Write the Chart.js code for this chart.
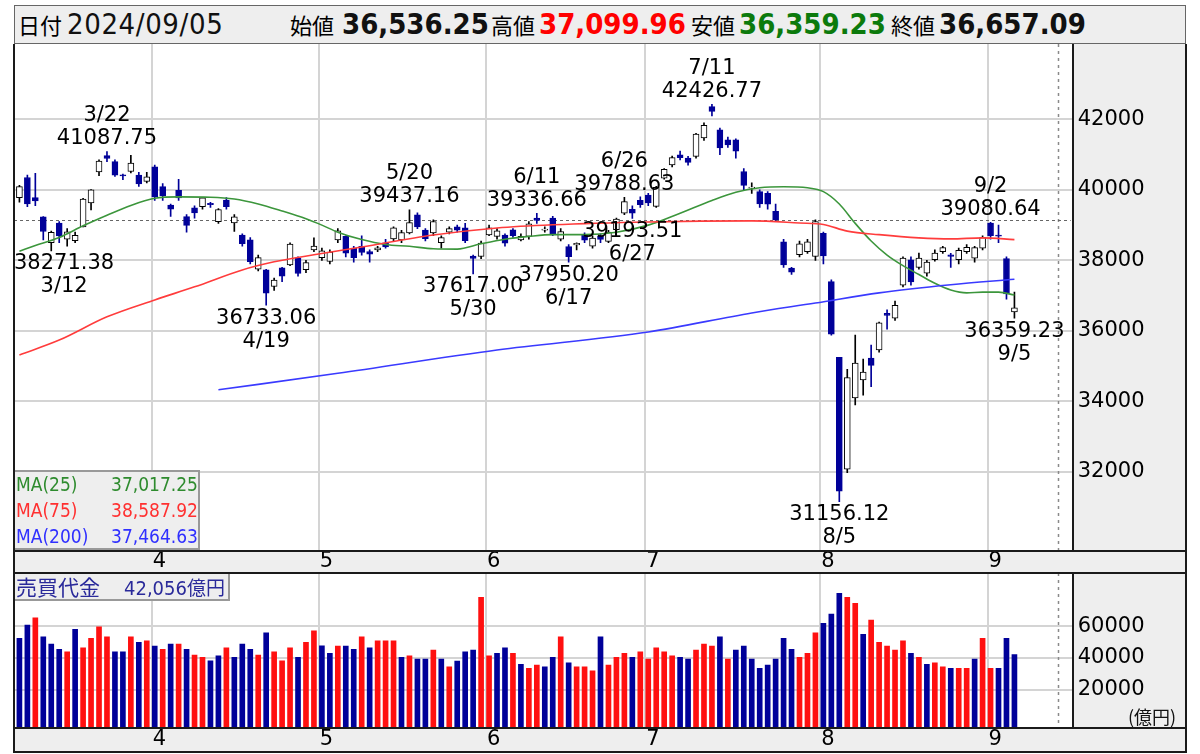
<!DOCTYPE html>
<html><head><meta charset="utf-8">
<script src="https://cdn.jsdelivr.net/npm/chart.js@4.4.1/dist/chart.umd.min.js"></script>
<style>
html,body{margin:0;padding:0;background:#fff;width:1200px;height:754px;overflow:hidden;}
#wrap{position:relative;width:1200px;height:754px;}
.a{position:absolute;box-sizing:border-box;}
.bg{background:#eeeeee;}
.ln{background:#1a1a1a;}
.hk{font-family:"Noto Sans CJK JP",sans-serif;font-size:22px;line-height:39px;top:5px;color:#000;}
.hn{font-family:"DejaVu Sans Condensed","DejaVu Sans",sans-serif;font-size:29px;line-height:39px;top:5px;color:#111;font-weight:bold;}
.lg{font-family:"DejaVu Sans Condensed","Noto Sans CJK JP",sans-serif;font-size:19px;line-height:26px;}
canvas{position:absolute;left:0;}
</style></head>
<body><div id="wrap">
<!-- backgrounds -->
<div class="a bg" style="left:14px;top:5px;width:1172px;height:39px;border:1px solid #666;"></div>
<div class="a bg" style="left:1073px;top:44px;width:113px;height:507px;"></div>
<div class="a bg" style="left:14px;top:551px;width:1172px;height:22px;"></div>
<div class="a bg" style="left:1073px;top:573px;width:113px;height:155px;"></div>
<div class="a bg" style="left:14px;top:728px;width:1172px;height:24px;"></div>

<canvas id="main" width="1200" height="529" style="top:44px;"></canvas>
<canvas id="vol" width="1200" height="179" style="top:573px;"></canvas>

<!-- header text -->
<span class="a hk" style="left:18px;">日付</span>
<span class="a hn" style="left:67px;font-weight:normal;letter-spacing:0.6px;">2024/09/05</span>
<span class="a hk" style="left:290px;">始値</span>
<span class="a hn" style="left:342px;">36,536.25</span>
<span class="a hk" style="left:491px;">高値</span>
<span class="a hn" style="left:539px;color:#ff0000;">37,099.96</span>
<span class="a hk" style="left:691px;">安値</span>
<span class="a hn" style="left:739px;color:#0c7a0c;">36,359.23</span>
<span class="a hk" style="left:891px;">終値</span>
<span class="a hn" style="left:939px;">36,657.09</span>

<!-- MA legend -->
<div class="a bg" style="left:14px;top:470px;width:186px;height:80px;border:2px solid #999;border-left:none;"></div>
<span class="a lg" style="left:16px;top:471px;color:#2e8b2e;">MA(25)</span>
<span class="a lg" style="left:100px;width:98px;text-align:right;top:471px;color:#2e8b2e;">37,017.25</span>
<span class="a lg" style="left:16px;top:497px;color:#ff3030;">MA(75)</span>
<span class="a lg" style="left:100px;width:98px;text-align:right;top:497px;color:#ff3030;">38,587.92</span>
<span class="a lg" style="left:16px;top:523px;color:#3030ff;">MA(200)</span>
<span class="a lg" style="left:100px;width:98px;text-align:right;top:523px;color:#3030ff;">37,464.63</span>

<!-- volume label -->
<div class="a bg" style="left:14px;top:574px;width:216px;height:27px;border:2px solid #999;border-left:none;border-top:none;"></div>
<span class="a" style="left:16px;top:573px;line-height:27px;font-family:'Noto Sans CJK JP',sans-serif;font-size:21px;color:#2a2a9a;white-space:nowrap;">売買代金<span style="display:inline-block;width:24px;"></span><span style="font-family:'DejaVu Sans Condensed',sans-serif;font-size:20px;">42,056</span><span style="font-size:19px;">億円</span></span>
<span class="a" style="left:1128px;top:704px;line-height:24px;font-family:'Noto Sans CJK JP',sans-serif;font-size:18px;color:#111;">(億円)</span>

<!-- frame lines -->
<div class="a ln" style="left:13px;top:44px;width:2px;height:708px;"></div>
<div class="a ln" style="left:1185px;top:44px;width:2px;height:708px;"></div>
<div class="a ln" style="left:1072px;top:44px;width:2px;height:507px;"></div>
<div class="a ln" style="left:1072px;top:573px;width:2px;height:155px;"></div>
<div class="a ln" style="left:13px;top:550px;width:1174px;height:2px;"></div>
<div class="a ln" style="left:13px;top:572px;width:1174px;height:2px;"></div>
<div class="a ln" style="left:13px;top:727px;width:1174px;height:2px;"></div>
<div class="a ln" style="left:13px;top:751px;width:1174px;height:2px;"></div>
</div>
<script>
// ---------- data ----------
const dates = ['3/6','3/7','3/8','3/11','3/12','3/13','3/14','3/15','3/18','3/19','3/21','3/22','3/25','3/26','3/27','3/28','3/29',
'4/1','4/2','4/3','4/4','4/5','4/8','4/9','4/10','4/11','4/12','4/15','4/16','4/17','4/18','4/19','4/22','4/23','4/24','4/25','4/26','4/30',
'5/1','5/2','5/7','5/8','5/9','5/10','5/13','5/14','5/15','5/16','5/17','5/20','5/21','5/22','5/23','5/24','5/27','5/28','5/29','5/30','5/31',
'6/3','6/4','6/5','6/6','6/7','6/10','6/11','6/12','6/13','6/14','6/17','6/18','6/19','6/20','6/21','6/24','6/25','6/26','6/27','6/28',
'7/1','7/2','7/3','7/4','7/5','7/8','7/9','7/10','7/11','7/12','7/16','7/17','7/18','7/19','7/22','7/23','7/24','7/25','7/26','7/29','7/30','7/31',
'8/1','8/2','8/5','8/6','8/7','8/8','8/9','8/13','8/14','8/15','8/16','8/19','8/20','8/21','8/22','8/23','8/26','8/27','8/28','8/29','8/30',
'9/2','9/3','9/4','9/5'];

const openP = [39780,40350,39780,39235,38500,39060,38600,38560,38950,39630,40510,40970,40800,40400,40520,40420,40240,
40650,40090,39570,39990,39240,39490,39520,39620,39100,39710,39060,38720,38580,37750,37730,37260,37790,37870,38070,37740,38300,
38080,37970,38580,38680,38350,38400,38250,38300,38500,38610,38580,38780,39290,38860,38780,38500,38800,38950,38920,38120,38110,
38720,38680,38720,38870,38580,38680,39200,38860,39200,38600,38390,38440,38720,38400,38680,38540,38870,39340,39450,39700,
39850,39530,40330,40710,40990,40900,40950,41470,42360,41700,41420,41420,40520,40050,39950,39900,39390,38530,37780,38160,38250,38110,
38770,37400,35250,32077,34100,34610,35230,35460,36500,36360,37300,38014,37800,37640,38020,38250,38160,38020,38250,38060,38350,
39055,38720,38050,36536.25];
const highP = [40130,40420,40472,39240,38830,39100,38900,38800,39760,40010,40850,41087.75,40850,40450,40980,40500,40500,
40700,40180,39600,40300,39300,39550,39780,39650,39470,39780,39300,38750,38650,38150,37750,37500,37800,38500,38100,38000,38640,
38350,38300,38900,38700,38400,38700,38300,38400,38600,38950,38850,39437.16,39350,38900,39150,38700,38950,39000,39050,38150,38550,
39000,38900,38750,38900,38750,39100,39336.66,38950,39250,38900,38450,38500,38780,38700,38750,38850,39200,39788.63,39550,39800,
39900,40100,40600,40960,41100,40950,41600,41900,42426.77,41750,41500,41450,40600,40200,40000,39950,39600,38600,37800,38550,38600,39150,
38800,37450,35250,34911,35880,35200,35600,36250,36600,36850,38100,38100,38205,38000,38300,38400,38200,38350,38450,38400,38700,
39080.64,39000,38100,37099.96];
const lowP = [39650,39520,39550,38580,38271.38,38500,38400,38500,38950,39430,40400,40800,40380,40290,40480,40100,40200,
39700,39700,39250,39700,38800,39200,39450,39500,39050,39450,38820,38400,37900,37700,36733.06,37150,37400,37850,37550,37650,38250,
38000,37900,38500,38100,37950,38150,37950,38250,38350,38550,38500,38750,38900,38550,38700,38350,38750,38800,38500,37617.00,38050,
38700,38600,38400,38650,38550,38600,39050,38800,38700,38550,37950.20,38300,38500,38350,38500,38500,38850,39300,39193.51,39500,
39550,39500,40300,40650,40850,40700,40900,41400,42100,41000,41200,40900,40000,39900,39500,39450,39100,37800,37600,38100,38200,38000,
37900,35880,31156.12,31981,33900,34180,34420,35400,36050,36300,37250,37300,37750,37550,37980,38200,37800,37900,38200,37950,38300,
38600,38500,36900,36359.23];
const closeP = [40090.78,39598.71,39688.94,38820.49,38797.51,38695.97,38807.38,38707.64,39740.44,40003.60,40815.66,40888.43,40414.12,40398.03,40762.73,40168.07,40369.44,
39803.09,39838.91,39451.85,39773.13,38992.08,39347.04,39773.14,39581.81,39442.63,39523.55,39232.80,38471.20,37961.80,38079.70,37068.35,37438.61,37552.16,38460.08,37628.48,37934.76,38405.66,
38274.05,38236.07,38835.10,38202.37,38073.98,38229.11,38179.46,38356.06,38385.73,38920.26,38787.38,39069.68,38946.93,38617.10,39103.22,38646.11,38900.02,38855.37,38556.87,38054.13,38487.90,
38923.03,38837.46,38490.17,38703.51,38683.93,39038.16,39134.79,38876.71,38720.47,38814.56,38102.44,38482.11,38570.76,38633.02,38596.47,38804.65,39173.15,39667.07,39341.54,39583.08,
39631.06,40074.69,40580.76,40913.65,40912.37,40780.70,41580.17,41831.99,42224.02,41190.68,41275.08,41097.69,40126.35,40063.79,39599.00,39594.39,39154.85,37869.51,37667.41,38468.63,38525.95,39101.82,
38126.33,35909.70,31458.42,34675.46,35089.62,34831.15,35025.00,36232.51,36442.43,36726.64,38062.67,37388.62,38062.92,37951.80,38211.01,38364.27,38110.22,38288.62,38371.76,38362.53,38647.75,
38700.87,38686.31,37047.61,36657.09];
const prevCloseBefore = 40097.63;

// trading value (億円)
const volume = [52260,60660,65280,53270,48660,45300,43800,57950,46320,52260,59590,53270,43800,43800,53270,49730,50740,
47390,45300,48660,48660,45300,41710,40250,38130,41280,46320,40250,48660,45300,41710,55800,43800,38130,46320,40250,49730,57060,
47590,42780,47390,47390,45300,53270,46320,50740,50740,50740,40250,41280,39180,39180,44870,39180,34320,37910,43800,44870,78170,
41280,42780,46320,42780,35830,33300,35390,34320,40250,53270,36840,34320,34320,31790,53270,35390,40250,42780,40250,43800,
39180,46320,43800,41280,40250,39180,44870,48660,47390,53270,39180,44870,47390,39180,33300,35390,39180,52260,45300,40250,42780,55800,
61740,67610,80700,78170,74370,54790,63820,49730,47390,44870,50740,42780,40250,35830,36840,34320,33300,33300,33300,39180,52260,
33300,33300,52260,42056];

// moving averages: [index, value]
const ma25 = [[0,38260],[2,38420],[5,38650],[8,38980],[11,39280],[14,39560],[17,39760],[20,39800],[24,39790],[27,39740],[30,39600],[33,39400],[36,39180],[38,39000],[40,38800],[43,38590],[46,38450],[49,38400],[52,38330],[55,38320],[58,38470],[61,38600],[64,38680],[67,38730],[71,38730],[75,38800],[79,39000],[83,39340],[87,39700],[90,39930],[93,40060],[96,40090],[99,40060],[101,39950],[103,39600],[105,39050],[107,38550],[109,38150],[111,37850],[113,37600],[115,37350],[117,37160],[119,37080],[121,37100],[123,37100],[125,37017.25]];
const ma75 = [[0,35320],[5,35740],[11,36400],[17,36880],[22,37250],[28,37730],[32,37960],[37,38160],[43,38380],[52,38720],[60,38920],[67,39010],[79,39090],[92,39120],[98,39060],[101,39020],[104,38830],[108,38730],[113,38640],[117,38610],[121,38640],[125,38587.92]];
const ma200 = [[25,34330],[40,34800],[60,35460],[79,35970],[92,36510],[100,36790],[108,37080],[117,37310],[125,37464.63]];

const priceTicks = [32000,34000,36000,38000,40000,42000];
const volumeTicks = [20000,40000,60000];
const monthLabels = ['4','5','6','7','8','9'];

// high / low annotations
const annIdx  = [11,4,31,49,57,65,69,76,77,87,103,122,125];
const annType = ['high','low','low','high','low','high','low','high','low','high','low','high','low'];
const annVal  = [41087.75,38271.38,36733.06,39437.16,37617.00,39336.66,37950.20,39788.63,39193.51,42426.77,31156.12,39080.64,36359.23];
const refLevel = 39150;   // dashed horizontal reference
const futureIdx = 130.5;  // dashed vertical marker

// ---------- helpers ----------
const UP = '#ffffff', DOWN = '#000099', UPLINE = '#000000';
const monthStart = [];
dates.forEach((d,i)=>{ if(i>0 && d.split('/')[0]!==dates[i-1].split('/')[0]) monthStart.push(i); });
const X_MIN = -0.68, X_MAX = 132.32;
const gridTickVals = monthStart.map(i=>i-0.38);
const FONT = '"DejaVu Sans", sans-serif';

function xScale(h, lh){
  return {
    type:'linear', min:X_MIN, max:X_MAX, offset:false,
    grid:{color:'#d4d4d4', lineWidth:2, drawTicks:false, offset:false},
    border:{display:false},
    afterBuildTicks:s=>{ s.ticks = gridTickVals.map(v=>({value:v})); },
    afterFit:s=>{ s.height = h; s.paddingLeft = 0; s.paddingRight = 0; },
    ticks:{ autoSkip:false, maxRotation:0, padding:0, labelOffset:7.6, color:'#000',
      font:{family:FONT, size:21, lineHeight:lh},
      callback:(v,i)=>monthLabels[i] }
  };
}
function yScale(min, max, ticks){
  return { type:'linear', position:'right', min:min, max:max,
    grid:{color:'#d4d4d4', lineWidth:2, drawTicks:false}, border:{display:false},
    afterBuildTicks:s=>{ s.ticks = ticks.map(v=>({value:v})); },
    afterFit:s=>{ s.width = 113.3; s.paddingTop = 0; s.paddingBottom = 0; },
    ticks:{ padding:5, color:'#000', font:{family:FONT, size:21}, callback:v=>String(v) } };
}

const dashPlugin = {
  id:'dash',
  beforeDatasetsDraw(chart, args, opts){
    const {ctx, chartArea:a, scales:{x,y}} = chart;
    ctx.save();
    ctx.strokeStyle = '#8a8a8a'; ctx.lineWidth = 1.5; ctx.setLineDash([3,4]);
    const vx = Math.round(x.getPixelForValue(futureIdx))+0.5;
    ctx.beginPath(); ctx.moveTo(vx, a.top); ctx.lineTo(vx, a.bottom); ctx.stroke();
    if (opts.ref){
      ctx.strokeStyle = '#666'; ctx.lineWidth = 1; ctx.setLineDash([3,3]);
      const hy = Math.round(y.getPixelForValue(refLevel))+0.5;
      ctx.beginPath(); ctx.moveTo(a.left, hy); ctx.lineTo(a.right-2, hy); ctx.stroke();
    }
    ctx.restore();
  }
};

const annPlugin = {
  id:'ann',
  afterDatasetsDraw(chart){
    const {ctx, chartArea:a, scales:{x,y}} = chart;
    ctx.save();
    ctx.font = '21px '+FONT; ctx.fillStyle = '#000';
    ctx.textAlign = 'center'; ctx.textBaseline = 'middle';
    annIdx.forEach((idx,k)=>{
      const px = x.getPixelForValue(idx), py = y.getPixelForValue(annVal[k]);
      const vt = annVal[k].toFixed(2), dt = dates[idx];
      const w = Math.max(ctx.measureText(vt).width, ctx.measureText(dt).width);
      let cx = px;
      if (cx - w/2 < a.left) cx = a.left + w/2;
      if (cx + w/2 > a.right) cx = a.right - w/2;
      if (annType[k]==='high'){ ctx.fillText(vt, cx, py-13); ctx.fillText(dt, cx, py-36); }
      else { ctx.fillText(vt, cx, py+13); ctx.fillText(dt, cx, py+36); }
    });
    ctx.restore();
  }
};

const isUp = dates.map((d,i)=>closeP[i] >= openP[i]);
const maLine = (pairs, color)=>({
  type:'line', data:pairs.map(p=>({x:p[0], y:p[1]})), borderColor:color, borderWidth:1.6,
  pointRadius:0, tension:0.4, cubicInterpolationMode:'monotone', fill:false, order:0
});

new Chart(document.getElementById('main'), {
  type:'bar',
  data:{ datasets:[
    maLine(ma200,'#3a3aff'),
    maLine(ma75,'#ff3c3c'),
    maLine(ma25,'#3c963c'),
    { type:'bar', order:1, grouped:false, barThickness:6, borderWidth:1, borderSkipped:false, minBarLength:1,
      data:dates.map((d,i)=>({x:i, y:[openP[i], closeP[i]]})),
      backgroundColor:isUp.map(u=>u?UP:DOWN), borderColor:isUp.map(u=>u?UPLINE:DOWN) },
    { type:'bar', order:2, grouped:false, barThickness:1, borderWidth:0,
      data:dates.map((d,i)=>({x:i, y:[lowP[i], highP[i]]})),
      backgroundColor:isUp.map(u=>u?UPLINE:DOWN) }
  ]},
  options:{
    responsive:false, animation:false, devicePixelRatio:1,
    layout:{padding:{left:14, right:14, top:0, bottom:0}},
    plugins:{legend:{display:false}, tooltip:{enabled:false}, dash:{ref:true}},
    scales:{ x: xScale(22, 1.05), y: yScale(29760, 44136, priceTicks) }
  },
  plugins:[dashPlugin, annPlugin]
});

const volUp = closeP.map((c,i)=> c > (i===0 ? prevCloseBefore : closeP[i-1]));
new Chart(document.getElementById('vol'), {
  type:'bar',
  data:{ datasets:[{
    data:volume.map((v,i)=>({x:i, y:v})), base:-4265, barThickness:5, grouped:false,
    backgroundColor:volUp.map(u=>u?'#ff1010':'#000099')
  }]},
  options:{
    responsive:false, animation:false, devicePixelRatio:1,
    layout:{padding:{left:14, right:14, top:0, bottom:0}},
    plugins:{legend:{display:false}, tooltip:{enabled:false}, dash:{ref:false}},
    scales:{ x: xScale(24, 1.14), y: yScale(-4265, 93491, volumeTicks) }
  },
  plugins:[dashPlugin]
});
</script>
</body></html>
